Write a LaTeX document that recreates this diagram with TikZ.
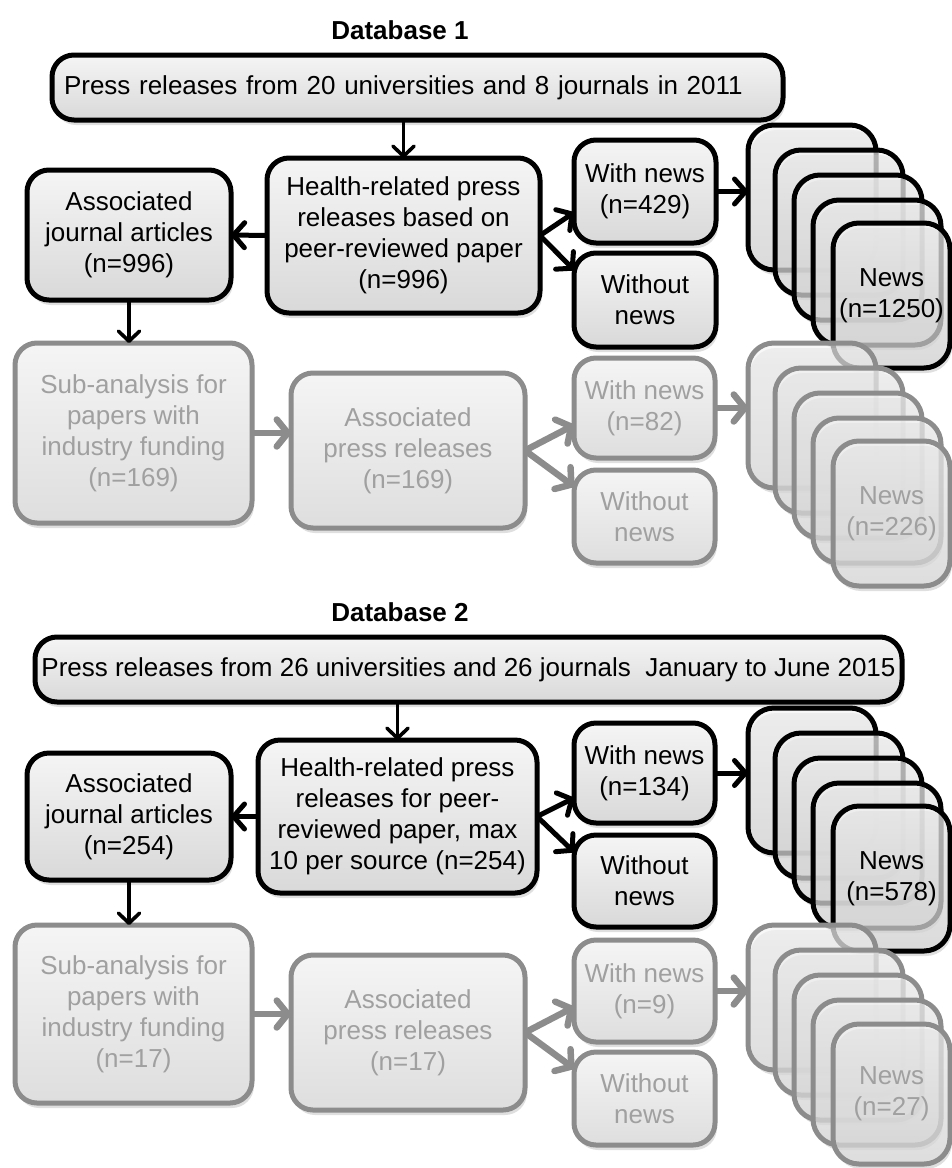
\documentclass[tikz,border=0pt]{standalone}
\usepackage{fontspec}
\setmainfont{Liberation Sans}
\usetikzlibrary{arrows.meta,shadows}
\newcommand\boxfont{\fontsize{26}{31}\selectfont}
\definecolor{gline}{HTML}{8C8C8C}
\definecolor{gtext}{HTML}{A0A0A0}
\begin{document}
\begin{tikzpicture}[x=1pt,y=-1pt,
 box/.style={draw=black, line width=5pt, rounded corners=22pt, top color=black!4, bottom color=black!15, align=center, font=\boxfont, inner sep=0pt, outer sep=0pt, drop shadow={shadow xshift=2pt,shadow yshift=-5pt,opacity=0.25}},
 gbox/.style={box, draw=gline, text=gtext, top color=black!4, bottom color=black!13},
 news/.style={box, rounded corners=26pt, minimum width=128pt, minimum height=145pt, fill opacity=0.68, text opacity=1},
 newslast/.style={news, minimum width=117pt},
 gnews/.style={news, draw=gline, text=gtext, top color=black!4, bottom color=black!13},
 gnewslast/.style={gnews, minimum width=117pt},
 arr/.style={line width=5pt, -{Straight Barb[length=11pt,width=25pt,round]}},
 darr/.style={line width=3.6pt, -{Straight Barb[length=10pt,width=21pt,round]}},
 garr/.style={line width=6.5pt, draw=gline, -{Straight Barb[length=11pt,width=27pt,round]}},
 title/.style={font=\fontsize{26}{30}\selectfont\bfseries}]
\useasboundingbox (0,0) rectangle (952,1168);

% ================= Database 1 =================
\node[title] (title1) at (400,30) {Database 1};
\node[box, minimum width=731pt, minimum height=65pt, text width=707pt, align=left] (top1) at (417.5,87.5) {Press releases from 20 universities and 8 journals in 2011};
\node[box, minimum width=273pt, minimum height=155pt] (health1) at (403.5,235.5) {Health-related press\\releases based on\\peer-reviewed paper\\(n=996)};
\node[box, minimum width=204pt, minimum height=130pt] (assoc1) at (129,235) {Associated\\journal articles\\(n=996)};
\node[box, minimum width=142pt, minimum height=103pt] (with1) at (645,191.5) {With news\\(n=429)};
\node[box, minimum width=142pt, minimum height=94pt] (without1) at (645,300) {Without\\news};

\node[news] (n1a) at (812,197.5) {};
\node[news] (n1b) at (839,222.5) {};
\node[news] (n1c) at (858,247.5) {};
\node[news] (n1d) at (877,272.5) {};
\node[newslast] (n1e) at (891.5,295.5) {News\\(n=1250)};

\node[gbox, minimum width=237pt, minimum height=180pt] (sub1) at (133.5,433) {Sub-analysis for\\papers with\\industry funding\\(n=169)};
\node[gbox, minimum width=234pt, minimum height=155pt] (apr1) at (408,450.5) {Associated\\press releases\\(n=169)};
\node[gbox, minimum width=141pt, minimum height=100pt] (gwith1) at (644.5,408) {With news\\(n=82)};
\node[gbox, minimum width=141pt, minimum height=93pt] (gwithout1) at (644.5,516.5) {Without\\news};

\node[gnews] (g1a) at (812,415.5) {};
\node[gnews] (g1b) at (839,440.5) {};
\node[gnews] (g1c) at (858,465.5) {};
\node[gnews] (g1d) at (877,490.5) {};
\node[gnewslast] (g1e) at (891.5,513.5) {News\\(n=226)};

\draw[darr] (health1.north |- top1.south) -- (health1.north);
\draw[arr] (health1.west) -- (assoc1.east);
\draw[darr] (assoc1.south) -- (assoc1.south |- sub1.north);
\draw[arr] (health1.east) -- ([yshift=-21pt]with1.west);
\draw[arr] (health1.east) -- ([yshift=30pt]without1.west);
\draw[arr] (with1.east) -- (with1.east -| n1a.west);
\draw[garr] (sub1.east) -- (sub1.east -| apr1.west);
\draw[garr] (apr1.east) -- ([yshift=-17pt]gwith1.west);
\draw[garr] (apr1.east) -- ([yshift=30pt]gwithout1.west);
\draw[garr] (gwith1.east) -- (gwith1.east -| g1a.west);

% ================= Database 2 =================
\node[title] (title2) at (400,612) {Database 2};
\node[box, minimum width=867pt, minimum height=65pt] (top2) at (468.5,669.5) {Press releases from 26 universities and 26 journals~ January to June 2015};
\node[box, minimum width=279pt, minimum height=153pt] (health2) at (397.5,816.5) {Health-related press\\releases for peer-\\reviewed paper, max\\10 per source (n=254)};
\node[box, minimum width=204pt, minimum height=127pt] (assoc2) at (129,816.5) {Associated\\journal articles\\(n=254)};
\node[box, minimum width=141pt, minimum height=100pt] (with2) at (644.5,773) {With news\\(n=134)};
\node[box, minimum width=141pt, minimum height=92pt] (without2) at (644.5,881) {Without\\news};

\node[news] (n2a) at (812,780.5) {};
\node[news] (n2b) at (839,805.5) {};
\node[news] (n2c) at (858,830.5) {};
\node[news] (n2d) at (877,855.5) {};
\node[newslast] (n2e) at (891.5,878.5) {News\\(n=578)};

\node[gbox, minimum width=237pt, minimum height=178pt] (sub2) at (133.5,1014) {Sub-analysis for\\papers with\\industry funding\\(n=17)};
\node[gbox, minimum width=234pt, minimum height=155pt] (apr2) at (408,1032.5) {Associated\\press releases\\(n=17)};
\node[gbox, minimum width=141pt, minimum height=102pt] (gwith2) at (644.5,991) {With news\\(n=9)};
\node[gbox, minimum width=141pt, minimum height=93pt] (gwithout2) at (644.5,1098.5) {Without\\news};

\node[gnews] (g2a) at (812,997.5) {};
\node[gnews] (g2b) at (839,1022.5) {};
\node[gnews] (g2c) at (858,1047.5) {};
\node[gnews] (g2d) at (877,1072.5) {};
\node[gnewslast, minimum height=140pt] (g2e) at (891.5,1094) {News\\(n=27)};

\draw[darr] (health2.north |- top2.south) -- (health2.north);
\draw[arr] (health2.west) -- (assoc2.east);
\draw[darr] (assoc2.south) -- (assoc2.south |- sub2.north);
\draw[arr] (health2.east) -- ([yshift=-25pt]with2.west);
\draw[arr] (health2.east) -- ([yshift=29pt]without2.west);
\draw[arr] (with2.east) -- (with2.east -| n2a.west);
\draw[garr] (sub2.east) -- (sub2.east -| apr2.west);
\draw[garr] (apr2.east) -- ([yshift=-16pt]gwith2.west);
\draw[garr] (apr2.east) -- ([yshift=30pt]gwithout2.west);
\draw[garr] (gwith2.east) -- (gwith2.east -| g2a.west);
\end{tikzpicture}
\end{document}
